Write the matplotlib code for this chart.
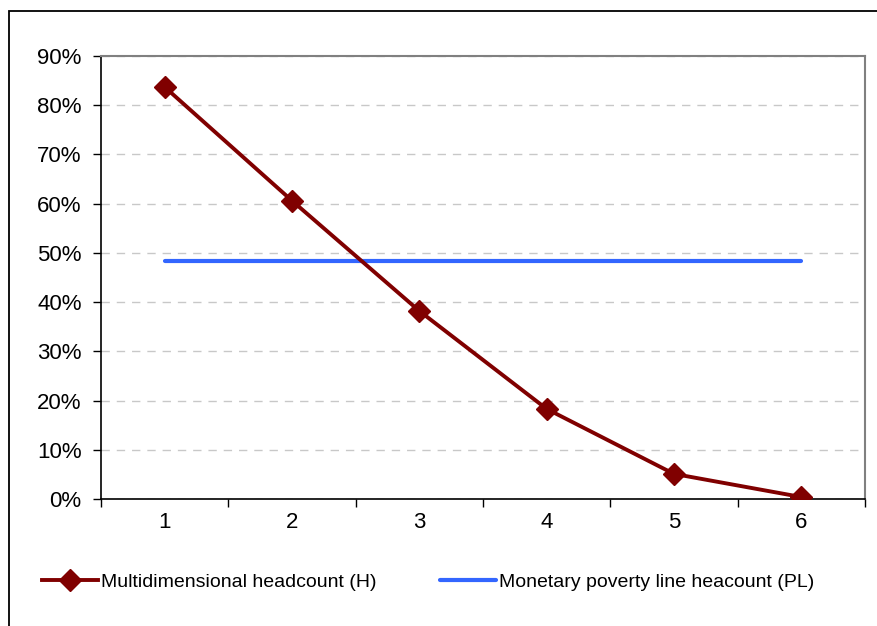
import numpy as np
import matplotlib
matplotlib.use("Agg")
import matplotlib.pyplot as plt
from matplotlib.patches import Rectangle
from matplotlib.ticker import PercentFormatter, FixedLocator

# data
categories = [1, 2, 3, 4, 5, 6]
headcount_H = [0.837, 0.606, 0.382, 0.183, 0.051, 0.004]
poverty_line_PL = [0.484, 0.484, 0.484, 0.484, 0.484, 0.484]
y_ticks = [0.0, 0.1, 0.2, 0.3, 0.4, 0.5, 0.6, 0.7, 0.8, 0.9]

plt.rcParams["font.family"] = ["Liberation Sans", "DejaVu Sans"]

fig = plt.figure(figsize=(8.77, 6.26), dpi=100)
ax = fig.add_axes([101/877, 1-499/626, 764/877, 443/626])

# outer chart frame (runs off the right/bottom edge like the reference)
fig.patches.append(Rectangle((9/877, -0.05), 1.2, 1-11/626+0.05, transform=fig.transFigure,
                             fill=False, edgecolor="black", linewidth=1.3))

line_h, = ax.plot(categories, headcount_H, color="#800000", linewidth=2.8, marker="D",
                  markersize=11, markeredgewidth=1, zorder=3)
line_pl, = ax.plot(categories, poverty_line_PL, color="#3366FF", linewidth=3,
                   solid_capstyle="round", zorder=2)

ax.set_xlim(0.5, 6.5)
ax.set_ylim(0, 0.9)
ax.yaxis.set_major_locator(FixedLocator(y_ticks))
ax.yaxis.set_major_formatter(PercentFormatter(1.0, decimals=0))
ax.grid(axis="y", color="#c8c8c8", linestyle=(0, (6, 5)), linewidth=1)
ax.set_axisbelow(True)

# category boundaries get tick marks, labels sit in between
ax.set_xticks(np.arange(0.5, 7.0, 1.0))
ax.set_xticklabels([])
ax.set_xticks(categories, minor=True)
ax.set_xticklabels([str(c) for c in categories], minor=True)
ax.tick_params(axis="x", which="major", direction="out", length=6, width=1, color="black")
ax.tick_params(axis="x", which="minor", length=0, pad=9, labelsize=16)
ax.tick_params(axis="y", direction="out", length=6, width=1, labelsize=16, pad=8)

for side in ["top", "right"]:
    ax.spines[side].set_color("#808080")
    ax.spines[side].set_linewidth(1.5)
for side in ["left", "bottom"]:
    ax.spines[side].set_color("black")
    ax.spines[side].set_linewidth(1.2)

# two legend entries placed separately, like the Excel legend
leg1 = fig.legend([line_h], ["Multidimensional headcount (H)"], loc="center left",
                  bbox_to_anchor=(42/877, 1-582/626), frameon=False, fontsize=14,
                  handlelength=2.9, handletextpad=0.15, borderpad=0, borderaxespad=0)
leg2 = fig.legend([line_pl], ["Monetary poverty line heacount (PL)"], loc="center left",
                  bbox_to_anchor=(440/877, 1-582/626), frameon=False, fontsize=14,
                  handlelength=2.9, handletextpad=0.15, borderpad=0, borderaxespad=0)

fig.savefig("out.png", dpi=100)
